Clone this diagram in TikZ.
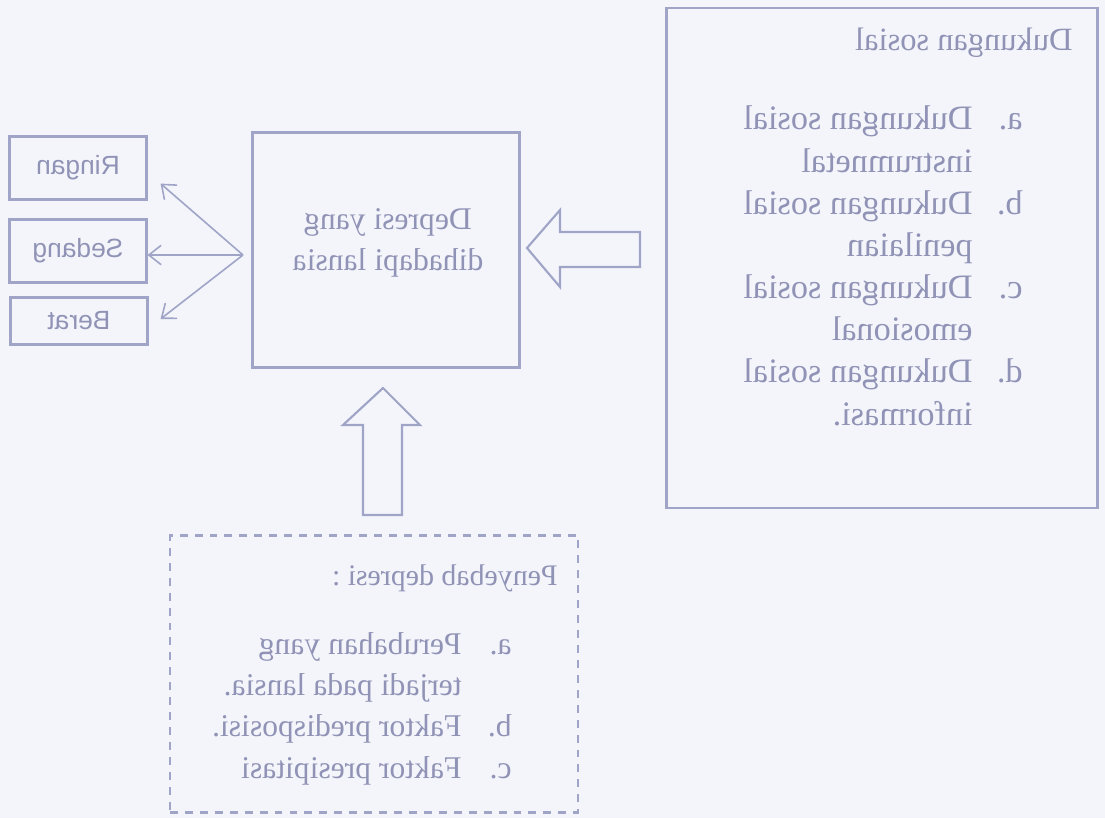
\documentclass[tikz,border=0pt]{standalone}
\usepackage{fontspec}
\setmainfont{Liberation Serif}
\newfontfamily\sansbox{Liberation Sans}
\usepackage{graphicx}
\usetikzlibrary{arrows.meta,calc}
\definecolor{ink}{RGB}{160,164,198}
\definecolor{txt}{RGB}{145,147,182}
\definecolor{paper}{RGB}{243,245,251}
\newcommand{\flip}[1]{\reflectbox{#1}}

\begin{document}
\begin{tikzpicture}[x=0.02cm,y=-0.02cm,
  kotak/.style={draw=ink,line width=1.2pt,inner sep=0pt},
  tingkat/.style={kotak,minimum width=2.74cm,text=txt,font=\sansbox\fontsize{15}{18}\selectfont},
  teks/.style={text=txt,inner sep=0pt},
  panah/.style={draw=ink,line width=0.9pt,-{Straight Barb[length=7pt,width=11pt]}},
  blok/.style={draw=ink,line width=1.2pt,fill=paper,line join=miter}]
\fill [paper] (0,0) rectangle (1105,818);
\useasboundingbox (0,0) rectangle (1105,818);
% tingkat depresi
\node [tingkat,minimum height=1.26cm] (rin) at (78,168) {\flip{Ringan}};
\node [tingkat,minimum height=1.26cm] (sed) at (78,251) {\flip{Sedang}};
\node [tingkat,minimum height=0.94cm] (ber) at (79,321) {\flip{Berat}};
% kotak tengah
\node [kotak,minimum width=5.34cm,minimum height=4.7cm] (dep) at (386,250) {};
\node [teks,font=\fontsize{18}{23}\selectfont] (deptxt) at (388,242)
  {\flip{\begin{tabular}{c}Depresi yang\\dihadapi lansia\end{tabular}}};
\coordinate (j) at (243,255);
\draw [panah] (j) -- ($(rin.south east)+(13,-17)$);
\draw [panah] (j) -- (j -| sed.east);
\draw [panah] (j) -- ($(ber.east)+(12,-2)$);
% dukungan sosial
\node [kotak,minimum width=8.62cm,minimum height=10cm] (duk) at (882,258) {};
\node [teks,anchor=east,font=\fontsize{18.5}{24}\selectfont] (dukjudul) at (1073,43) {\flip{Dukungan sosial}};
\node [teks,anchor=north east,font=\fontsize{19.5}{24}\selectfont] (dukdaftar) at (1023,100)
  {\flip{\begin{tabular}{@{}p{1cm}@{}l@{}}
   a. & Dukungan sosial\\ & instrumnetal\\
   b. & Dukungan sosial\\ & penilaian\\
   c. & Dukungan sosial\\ & emosional\\
   d. & Dukungan sosial\\ & informasi.
  \end{tabular}}};
\draw [blok] (527,248) -- (560,210) -- (560,232) -- (640,232) -- (640,267)
  -- (560,267) -- (560,287) -- cycle;
% penyebab
\node [kotak,line width=1.5pt,dash pattern=on 4.5pt off 4pt,minimum width=8.16cm,minimum height=5.54cm] (sebab) at (374,674) {};
\node [teks,anchor=east,font=\fontsize{17}{24}\selectfont] (sebabjudul) at (558,578) {\flip{Penyebab depresi :}};
\node [teks,anchor=north east,font=\fontsize{18}{23.5}\selectfont] (sebabdaftar) at (512,625)
  {\flip{\begin{tabular}{@{}p{1cm}@{}l@{}}
   a. & Perubahan yang\\ & terjadi pada lansia.\\
   b. & Faktor predisposisi.\\
   c. & Faktor presipitasi
  \end{tabular}}};
\draw [blok] (383,388) -- (420,425) -- (402,425) -- (402,515) -- (363,515)
  -- (363,425) -- (343,425) -- cycle;
\end{tikzpicture}
\end{document}
